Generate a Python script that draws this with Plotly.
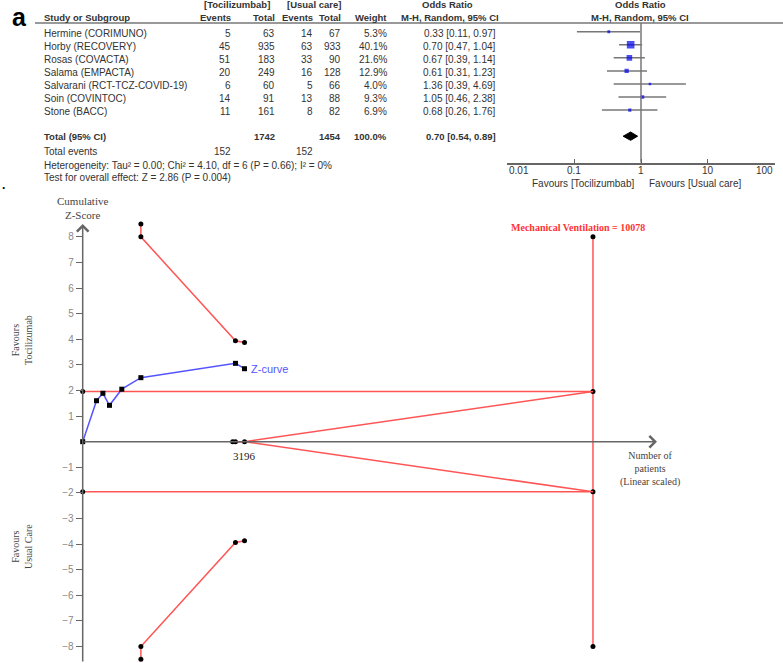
import math

import plotly.graph_objects as go

# ---- forest plot data (RevMan table) ----
studies = [
    "Hermine (CORIMUNO)", "Horby (RECOVERY)", "Rosas (COVACTA)", "Salama (EMPACTA)",
    "Salvarani (RCT-TCZ-COVID-19)", "Soin (COVINTOC)", "Stone (BACC)",
]
toci_events = [5, 45, 51, 20, 6, 14, 11]
toci_total = [63, 935, 183, 249, 60, 91, 161]
usual_events = [14, 63, 33, 16, 5, 13, 8]
usual_total = [67, 933, 90, 128, 66, 88, 82]
weights = [5.3, 40.1, 21.6, 12.9, 4.0, 9.3, 6.9]
or_est = [0.33, 0.70, 0.67, 0.61, 1.36, 1.05, 0.68]
or_lo = [0.11, 0.47, 0.39, 0.31, 0.39, 0.46, 0.26]
or_hi = [0.97, 1.04, 1.14, 1.23, 4.69, 2.38, 1.76]
pooled = (0.70, 0.54, 0.89)
forest_ticks = [0.01, 0.1, 1, 10, 100]
forest_ticktext = ["0.01", "0.1", "1", "10", "100"]

# ---- trial sequential analysis data ----
z_patients = [0, 273, 399, 529, 772, 1149, 3017, 3196]
z_scores = [0, 1.60, 1.89, 1.42, 2.05, 2.50, 3.06, 2.85]
bound_patients = [1149, 1149, 3017, 3196]
bound_upper = [8.5, 8.0, 3.94, 3.87]
bound_lower = [-8.5, -8.0, -3.94, -3.87]
futility_patients = [3017, 3196, 10078]
futility_upper = [0, 0, 1.96]
futility_lower = [0, 0, -1.96]
axis_dots = [2962, 3017, 3196]
ris = 10078
ris_z = [8, 1.96, -1.96, -8]
conventional_z = 1.96
z_ticks = [-8, -7, -6, -5, -4, -3, -2, -1, 1, 2, 3, 4, 5, 6, 7, 8]

W, H = 783, 663
TXT = "#333333"
GRID = "#666666"
RED = "#ff5555"
BLUE = "#5555ff"
SANS = "Liberation Sans, Arial, sans-serif"
SERIF = "Liberation Serif, Times New Roman, serif"


def px_x(p):
    return p / W


def px_y(p):
    return 1 - p / H


def row_y(r):
    # table rows are 13.06 px apart, first row 31.7 px from the top
    return px_y(31.7 + 13.06 * r)


fig = go.Figure()

# forest plot marks
rows = list(range(len(studies)))
total_row = 8
y_top, y_bot = -0.67, 10.03
for r, lo, hi in zip(rows, or_lo, or_hi):
    fig.add_trace(go.Scatter(x=[lo, hi], y=[r, r], mode="lines", line=dict(color="#777777", width=1.5),
                             showlegend=False, hoverinfo="skip", xaxis="x", yaxis="y"))
fig.add_trace(go.Scatter(
    x=or_est, y=rows, mode="markers", showlegend=False,
    marker=dict(symbol="square", color="#0000ee", size=[max(2.5, 1.2 * math.sqrt(w)) for w in weights],
                line=dict(width=0)),
    xaxis="x", yaxis="y",
))
est, lo, hi = pooled
fig.add_trace(go.Scatter(
    x=[lo, est, hi, est, lo], y=[total_row, total_row - 0.32, total_row, total_row + 0.32, total_row],
    mode="lines", fill="toself", fillcolor="black", line=dict(color="black", width=1),
    showlegend=False, hoverinfo="skip", xaxis="x", yaxis="y",
))
fig.add_trace(go.Scatter(x=[1, 1], y=[y_top, y_bot], mode="lines", line=dict(color="#777777", width=1.5),
                         showlegend=False, hoverinfo="skip", xaxis="x", yaxis="y"))

# forest tick labels: outer ones kept inside the axis like RevMan does
for t, label in zip(forest_ticks, forest_ticktext):
    anchor = "left" if t == forest_ticks[0] else "right" if t == forest_ticks[-1] else "center"
    fig.add_annotation(text=label, x=math.log10(t), y=px_y(171), xref="x", yref="paper", xanchor=anchor,
                       yanchor="middle", showarrow=False, font=dict(family=SANS, size=10, color=TXT))

# TSA marks
for zc in (conventional_z, -conventional_z):
    fig.add_trace(go.Scatter(x=[0, ris], y=[zc, zc], mode="lines", line=dict(color=RED, width=1.5),
                             showlegend=False, xaxis="x2", yaxis="y2"))
fig.add_trace(go.Scatter(x=[ris] * len(ris_z), y=ris_z, mode="lines+markers",
                         line=dict(color=RED, width=1.5), marker=dict(color="black", size=5),
                         showlegend=False, xaxis="x2", yaxis="y2", cliponaxis=False))
for fut in (futility_upper, futility_lower):
    fig.add_trace(go.Scatter(x=futility_patients, y=fut, mode="lines", line=dict(color=RED, width=1.5),
                             showlegend=False, xaxis="x2", yaxis="y2"))
for bound in (bound_upper, bound_lower):
    fig.add_trace(go.Scatter(x=bound_patients, y=bound, mode="lines+markers",
                             line=dict(color=RED, width=1.5), marker=dict(color="black", size=5),
                             showlegend=False, xaxis="x2", yaxis="y2", cliponaxis=False))
fig.add_trace(go.Scatter(x=[0, 0], y=[conventional_z, -conventional_z], mode="markers",
                         marker=dict(color="black", size=5), showlegend=False,
                         xaxis="x2", yaxis="y2", cliponaxis=False))

# axes of the TSA drawn as arrows
y2_range = [-8.645, 9.44]
x_tip = 11342
fig.add_annotation(x=0, y=8.5, ax=0, ay=y2_range[0], xref="x2", yref="y2", axref="x2", ayref="y2",
                   showarrow=True, arrowhead=4, arrowsize=1.5, arrowwidth=1.5, arrowcolor=GRID, text="")
fig.add_annotation(x=x_tip, y=0, ax=0, ay=0, xref="x2", yref="y2", axref="x2", ayref="y2",
                   showarrow=True, arrowhead=4, arrowsize=1.5, arrowwidth=1.5, arrowcolor=GRID, text="")
fig.add_trace(go.Scatter(x=axis_dots, y=[0] * len(axis_dots), mode="markers",
                         marker=dict(color="black", size=5), showlegend=False, xaxis="x2", yaxis="y2"))
fig.add_trace(go.Scatter(x=z_patients, y=z_scores, mode="lines+markers",
                         line=dict(color=BLUE, width=1.5),
                         marker=dict(symbol="square", color="black", size=5),
                         showlegend=False, xaxis="x2", yaxis="y2", cliponaxis=False))


# ---- table text ----
def note(text, x, y, anchor="left", bold=False, size=10, color=TXT):
    if bold:
        text = f"<b>{text}</b>"
    fig.add_annotation(text=text, x=px_x(x), y=y, xref="paper", yref="paper", xanchor=anchor,
                       yanchor="middle", showarrow=False, font=dict(family=SANS, size=size, color=color))


head1, head2 = px_y(5), px_y(17)
note("[Tocilizumbab]", 237, head1, "center", bold=True, size=9.5)
note("[Usual care]", 314, head1, "center", bold=True, size=9.5)
note("Odds Ratio", 447, head1, "center", bold=True, size=9.5)
note("Odds Ratio", 640, head1, "center", bold=True, size=9.5)
note("Study or Subgroup", 42, head2, bold=True, size=9.5)
note("Events", 233, head2, "right", bold=True, size=9.5)
note("Total", 277, head2, "right", bold=True, size=9.5)
note("Events", 315, head2, "right", bold=True, size=9.5)
note("Total", 343, head2, "right", bold=True, size=9.5)
note("Weight", 389, head2, "right", bold=True, size=9.5)
note("M-H, Random, 95% CI", 450, head2, "center", bold=True, size=9.5)
note("M-H, Random, 95% CI", 640, head2, "center", bold=True, size=9.5)

for i, s in enumerate(studies):
    y = row_y(i + 0.12)
    note(s, 42, y)
    note(str(toci_events[i]), 233, y, "right")
    note(str(toci_total[i]), 277, y, "right")
    note(str(usual_events[i]), 315, y, "right")
    note(str(usual_total[i]), 343, y, "right")
    note(f"{weights[i]:.1f}%", 389, y, "right")
    note(f"{or_est[i]:.2f} [{or_lo[i]:.2f}, {or_hi[i]:.2f}]", 498, y, "right")

yt = row_y(total_row)
note("Total (95% CI)", 42, yt, bold=True, size=9.5)
note(str(sum(toci_total)), 277, yt, "right", bold=True, size=9.5)
note(str(sum(usual_total)), 343, yt, "right", bold=True, size=9.5)
note("100.0%", 389, yt, "right", bold=True, size=9.5)
note(f"{est:.2f} [{lo:.2f}, {hi:.2f}]", 498, yt, "right", bold=True, size=9.5)
note("Total events", 42, px_y(152))
note(str(sum(toci_events)), 233, px_y(152), "right")
note(str(sum(usual_events)), 315, px_y(152), "right")
note("Heterogeneity: Tau² = 0.00; Chi² = 4.10, df = 6 (P = 0.66); I² = 0%", 42, px_y(165))
note("Test for overall effect: Z = 2.86 (P = 0.004)", 42, px_y(178))

fig.add_annotation(text="Favours [Tocilizumbab]", x=0, y=px_y(183), xref="x", yref="paper", xanchor="right",
                   yanchor="middle", xshift=-5, showarrow=False, font=dict(family=SANS, size=10, color=TXT))
fig.add_annotation(text="Favours [Usual care]", x=0, y=px_y(183), xref="x", yref="paper", xanchor="left",
                   yanchor="middle", xshift=6, showarrow=False, font=dict(family=SANS, size=10, color=TXT))

# panel letters (kept inside the paper so they do not push the margins)
fig.add_annotation(text="<b>a</b>", x=px_x(19), y=px_y(17), xref="paper", yref="paper", showarrow=False,
                   xanchor="center", yanchor="middle", font=dict(family=SANS, size=25, color="black"))
fig.add_annotation(text="<b>.</b>", x=0, y=px_y(185), xref="paper", yref="paper", xanchor="left",
                   yanchor="middle", showarrow=False, font=dict(family=SANS, size=12, color="black"))

# ---- TSA labels ----
fig.add_annotation(text="<b>Mechanical Ventilation = 10078</b>", x=ris, y=8, xref="x2", yref="y2",
                   xanchor="center", yanchor="bottom", xshift=-15, yshift=2, showarrow=False,
                   font=dict(family=SERIF, size=10, color="#ff3333"))
fig.add_annotation(text="3196", x=z_patients[-1], y=0, xref="x2", yref="y2", yanchor="top", yshift=-6,
                   showarrow=False, font=dict(family=SERIF, size=11, color="#222222"))
fig.add_annotation(text="Z-curve", x=z_patients[-1], y=z_scores[-1], xref="x2", yref="y2", xanchor="left",
                   xshift=4, showarrow=False, font=dict(family=SANS, size=11, color=BLUE))
fig.add_annotation(text="Number of<br>patients<br>(Linear scaled)", x=x_tip, y=0, xref="x2", yref="y2",
                   xanchor="center", yanchor="top", xshift=-7, yshift=-6, showarrow=False,
                   font=dict(family=SERIF, size=10, color="#444444"))
fig.add_annotation(text="Cumulative<br>Z-Score", x=0, y=8.5, xref="x2", yref="y2", xanchor="center",
                   yanchor="bottom", yshift=1, showarrow=False,
                   font=dict(family=SERIF, size=11, color="#444444"))
fig.add_annotation(text="Favours<br>Tocilizumab", x=px_x(22), y=px_y(340), xref="paper", yref="paper",
                   xanchor="center", yanchor="middle", textangle=-90, showarrow=False,
                   font=dict(family=SERIF, size=10, color="#444444"))
fig.add_annotation(text="Favours<br>Usual Care", x=px_x(22), y=px_y(547), xref="paper", yref="paper",
                   xanchor="center", yanchor="middle", textangle=-90, showarrow=False,
                   font=dict(family=SERIF, size=10, color="#444444"))

# header rule
fig.add_shape(type="line", xref="paper", yref="paper", x0=px_x(35), x1=1, y0=px_y(23), y1=px_y(23),
              line=dict(color="#777777", width=1.5))

fig.update_layout(
    autosize=False,
    width=W, height=H,
    margin=dict(l=0, r=0, t=0, b=0),
    plot_bgcolor="white", paper_bgcolor="white",
    xaxis=dict(type="log", domain=[507 / W, 775 / W], range=[-2.004, 2.004], tickvals=forest_ticks,
               showticklabels=False, ticks="inside", ticklen=4, tickcolor="#666666",
               showline=True, linecolor="#666666", linewidth=1.5, showgrid=False, zeroline=False,
               anchor="y"),
    yaxis=dict(domain=[px_y(162.7), px_y(23)], range=[y_bot, y_top], visible=False, anchor="x"),
    xaxis2=dict(domain=[82.7 / W, 1], range=[0, (W - 82.7) * 19.75], visible=False, anchor="y2"),
    yaxis2=dict(domain=[0, px_y(200)], range=y2_range, tickvals=z_ticks, ticks="outside", ticklen=6,
                tickcolor=GRID, showline=False, showgrid=False, zeroline=False, anchor="x2",
                tickfont=dict(family=SANS, size=10, color="#888888")),
)

fig.write_html(
    "out.html",
    config={"displayModeBar": False, "responsive": False},
    post_script="document.body.style.margin='0';",
)
